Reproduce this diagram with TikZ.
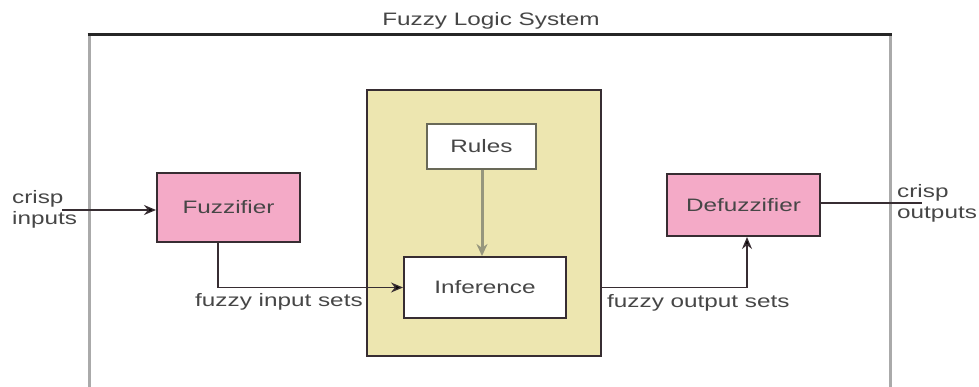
\documentclass[tikz,border=0pt]{standalone}
\usepackage{fontspec}
\setmainfont{Liberation Sans}[FakeStretch=1.35]
\usetikzlibrary{arrows.meta}
\definecolor{txt}{RGB}{70,70,70}
\definecolor{boxline}{RGB}{55,45,50}
\definecolor{pinkfill}{RGB}{244,170,199}
\definecolor{sandfill}{RGB}{237,230,176}
\definecolor{framegray}{RGB}{170,170,170}
\definecolor{rulegray}{RGB}{150,150,125}
\tikzset{
  every node/.style={font=\fontsize{18}{21}\selectfont, text=txt},
  pinkbox/.style={draw=boxline, line width=2pt, fill=pinkfill, inner sep=0pt},
  whitebox/.style={draw=boxline, line width=2pt, fill=white, inner sep=0pt},
  label/.style={inner sep=0pt, align=left},
  flow/.style={draw=boxline, line width=1.3pt, -{Stealth[length=12pt,width=10pt,fill=black]}},
  plain/.style={draw=boxline, line width=1.3pt},
}
\begin{document}
\begin{tikzpicture}[x=1pt,y=-1pt]
\useasboundingbox (0,0) rectangle (979,387);
\fill[white] (0,0) rectangle (979,387);

% outer frame of the system, open at the bottom
\draw[framegray, line width=3pt] (89,35) -- (89,390);
\draw[framegray, line width=3pt] (890,35) -- (890,390);
\draw[black!85, line width=3pt] (87.5,35) -- (891.5,35);
\node (title) at (491,21) {Fuzzy Logic System};

% inference engine panel
\node[draw=boxline, line width=2.5pt, fill=sandfill, minimum width=234pt, minimum height=266pt] (engine) at (484,223) {};
\node[whitebox, draw=rulegray!70!black, minimum width=109pt, minimum height=45pt] (rules) at (481.5,146.5) {Rules};
\node[whitebox, minimum width=162pt, minimum height=61pt] (inference) at (485,287.5) {Inference};

% fuzzifier and defuzzifier
\node[pinkbox, minimum width=143pt, minimum height=69pt] (fuzz) at (228.5,207.5) {Fuzzifier};
\node[pinkbox, minimum width=153pt, minimum height=62pt] (defuzz) at (743.5,205) {Defuzzifier};

% free ends of the outside connectors
\coordinate (inend) at (62,210);
\coordinate (outend) at (922,203);

\node[label, anchor=west] (inlab) at (12,209) {crisp\\inputs};
\node[label, anchor=west] (outlab) at (897,203) {crisp\\outputs};

% connectors
\draw[flow] (inend) -- (fuzz.west |- inend);
\draw[flow] (fuzz.south -| 218,0) |- (inference.west);
\draw[flow, draw=rulegray, line width=3pt, -{Stealth[length=12pt,width=11pt,fill=black]}] (rules.south -| 482,0) -- (inference.north -| 482,0);
\draw[flow] (engine.east |- inference.west) -| (defuzz.south -| 747,0);
\draw[plain] (defuzz.east |- outend) -- (outend);

\node[label, anchor=west] (inset) at (195,302) {fuzzy input sets};
\node[label, anchor=west] (outset) at (607,303) {fuzzy output sets};
\end{tikzpicture}
\end{document}
